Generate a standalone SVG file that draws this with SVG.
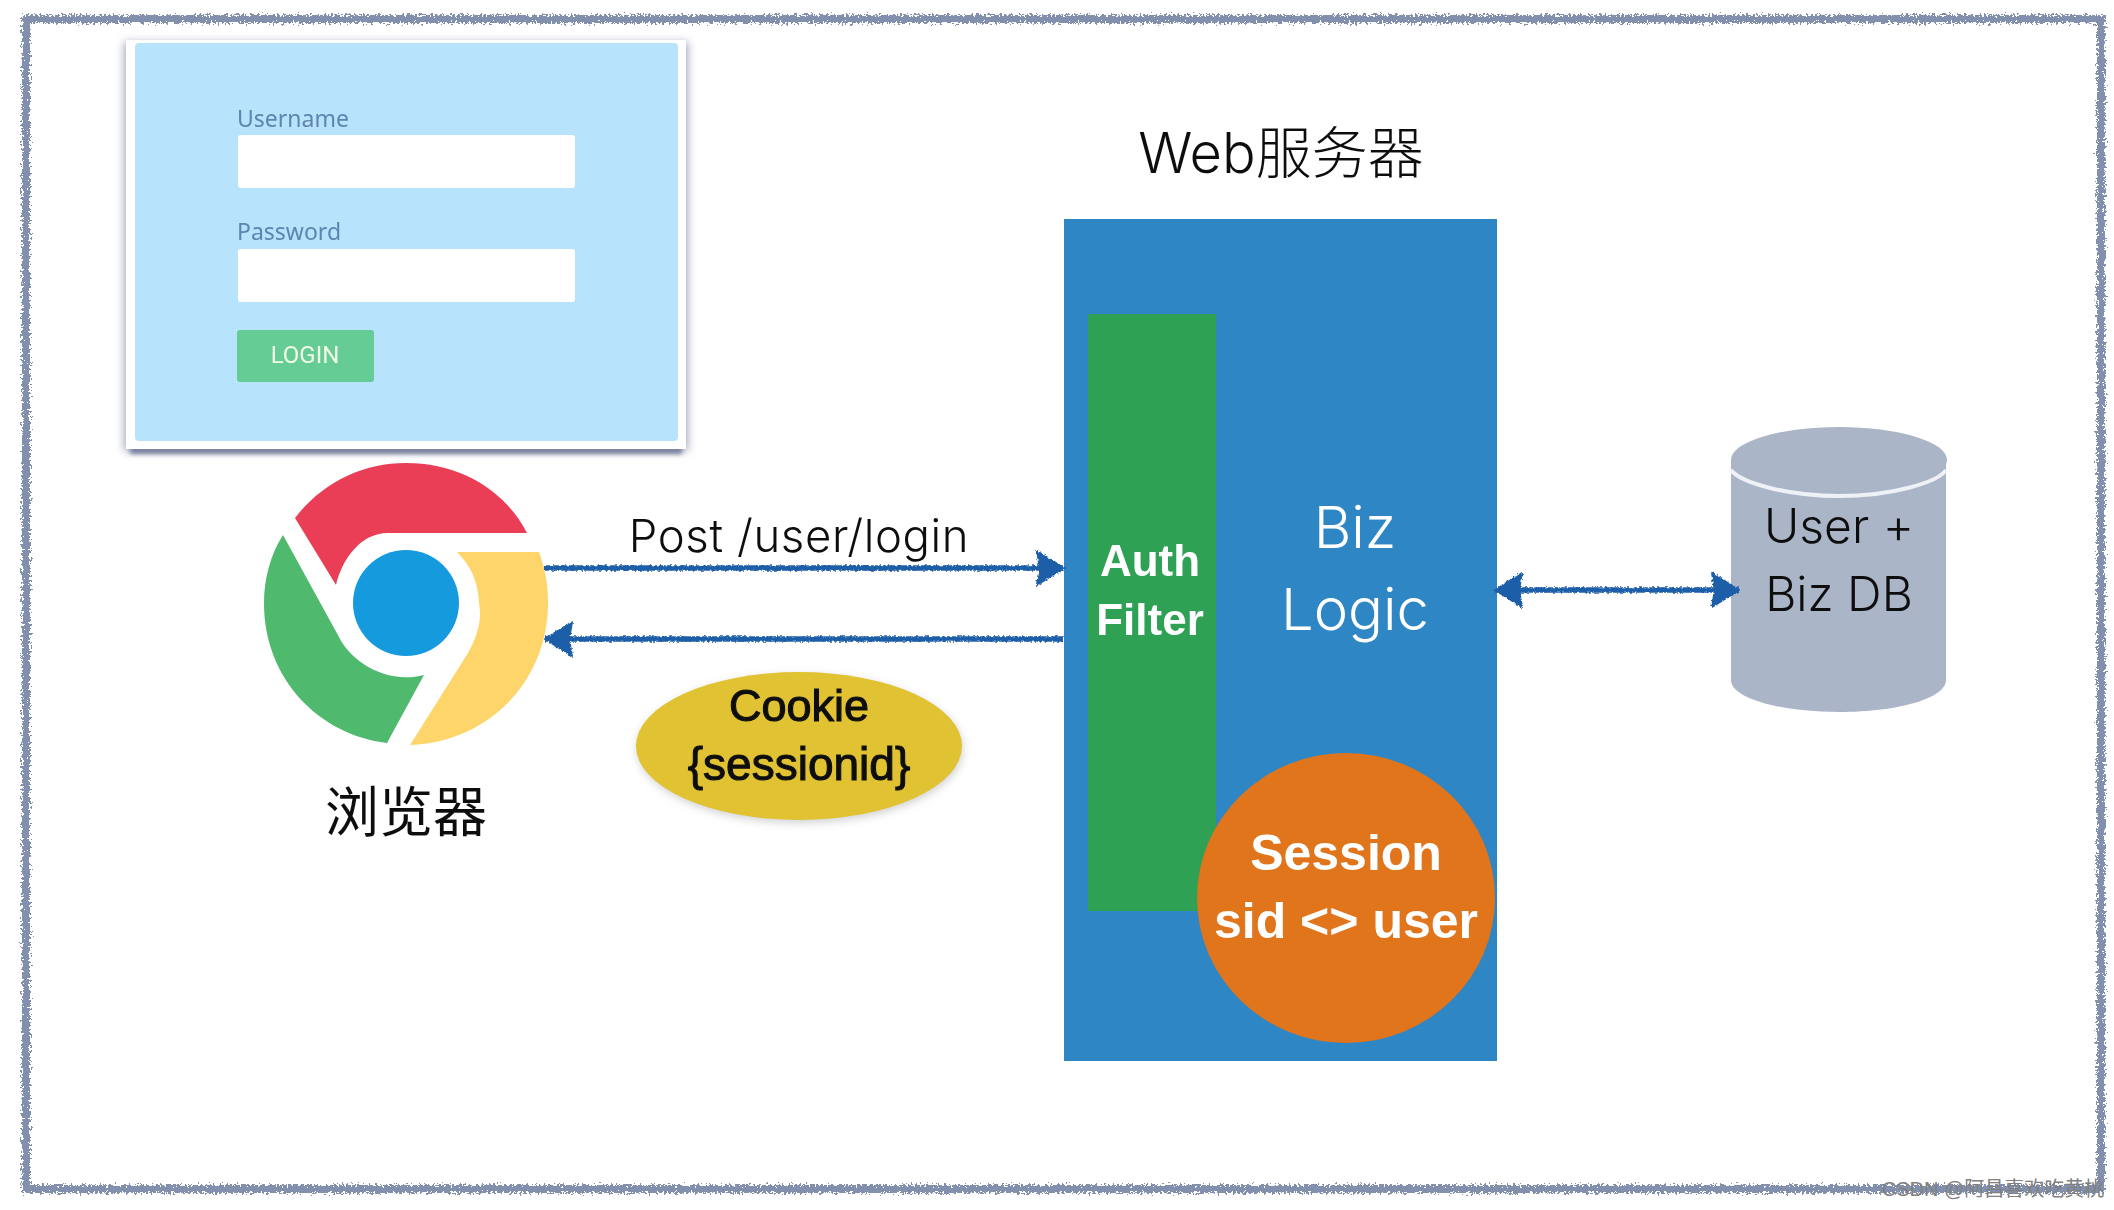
<svg xmlns="http://www.w3.org/2000/svg" width="2114" height="1210" viewBox="0 0 2114 1210">
<style>
.s{font-family:"Inter","Liberation Sans","Noto Sans CJK SC",sans-serif}
.h{font-family:"Liberation Sans",sans-serif}
.c{text-anchor:middle}
.lt{font-weight:300}
.b{font-weight:700}
.k{fill:#111}
.w{fill:#fff}
.lab{font-family:"Noto Sans","Liberation Sans",sans-serif;font-size:23px;fill:#5f84af}
.cj{font-family:"Noto Sans CJK SC",sans-serif;font-weight:400}
.con{fill:none;stroke:#1f5fa8;stroke-width:5.5}
</style>
<defs>
<filter id="rough" filterUnits="userSpaceOnUse" x="0" y="0" width="2114" height="1210">
<feTurbulence type="fractalNoise" baseFrequency="0.45" numOctaves="2" seed="4" result="n"/>
<feDisplacementMap in="SourceGraphic" in2="n" scale="10" xChannelSelector="R" yChannelSelector="G"/>
<feGaussianBlur stdDeviation="0.7"/>
</filter>
<filter id="roughA" filterUnits="userSpaceOnUse" x="0" y="0" width="2114" height="1210">
<feTurbulence type="fractalNoise" baseFrequency="0.4" numOctaves="2" seed="9" result="n"/>
<feDisplacementMap in="SourceGraphic" in2="n" scale="4" xChannelSelector="R" yChannelSelector="G"/>
<feGaussianBlur stdDeviation="0.5"/>
</filter>
<filter id="soft" filterUnits="userSpaceOnUse" x="0" y="0" width="2114" height="1210"><feGaussianBlur stdDeviation="0.45"/></filter>
<filter id="sh" filterUnits="userSpaceOnUse" x="0" y="0" width="2114" height="1210"><feGaussianBlur stdDeviation="4"/></filter>
<filter id="sh2" filterUnits="userSpaceOnUse" x="0" y="0" width="2114" height="1210"><feGaussianBlur stdDeviation="2.2"/></filter>
<marker id="end" markerUnits="userSpaceOnUse" markerWidth="36" markerHeight="44" refX="30" refY="22" orient="auto"><path d="M3 5L30 22L3 39L6 22Z" fill="#1f5fa8" stroke="#1f5fa8" stroke-width="2" stroke-linejoin="round"/></marker>
<marker id="start" markerUnits="userSpaceOnUse" markerWidth="36" markerHeight="44" refX="6" refY="22" orient="auto"><path d="M33 5L6 22L33 39L30 22Z" fill="#1f5fa8" stroke="#1f5fa8" stroke-width="2" stroke-linejoin="round"/></marker>
</defs>
<rect width="2114" height="1210" fill="#fff"/>
<g id="frame" filter="url(#rough)"><rect x="26" y="19" width="2075" height="1170" fill="none" stroke="#8290ae" stroke-width="8"/></g>
<g id="login" filter="url(#soft)">
<rect x="124" y="42" width="564" height="409" fill="#a6aabf" filter="url(#sh)"/>
<rect x="130" y="446" width="552" height="8" fill="#7c82a0" filter="url(#sh2)"/>
<rect x="126" y="40" width="560" height="409" fill="#fff"/>
<rect x="135" y="43" width="543" height="398" rx="4" fill="#b8e3fc"/>
<text class="lab" x="237" y="127">Username</text>
<rect x="238" y="135" width="337" height="53" rx="3" fill="#fff"/>
<text class="lab" x="237" y="240">Password</text>
<rect x="238" y="249" width="337" height="53" rx="3" fill="#fff"/>
<rect x="237" y="330" width="137" height="52" rx="3" fill="#66cc96"/>
<text x="305" y="363" text-anchor="middle" style="font-family:Roboto,sans-serif;font-size:24px;fill:#f2fbe8">LOGIN</text>
</g>
<g id="browser" filter="url(#soft)">
<path d="M295 518C322 483 362 463 406 463C460 463 505 490 527 533H388C360 533 342 560 336 585Z" fill="#ea3e56"/>
<path d="M283 535L339 637C350 660 385 685 424 675L387 743C320 735 264 680 264 603C264 580 270 555 283 535Z" fill="#50b96e"/>
<path d="M457 552H539C545 568 548 585 548 603C548 680 490 742 410 745L468 653C478 635 482 620 479 603C478 580 470 565 457 552Z" fill="#fdd56a"/>
<ellipse cx="406" cy="603" rx="53" ry="53" fill="#169ade"/>
<text class="cj c k" x="406" y="832" font-size="54">浏览器</text>
</g>
<g id="server" filter="url(#soft)">
<text class="c k" x="1281" y="173" font-size="56" style="font-family:Inter,'Noto Sans CJK SC',sans-serif;font-weight:300">Web服务器</text>
<rect x="1064" y="219" width="433" height="842" fill="#2e86c5"/>
<text class="s c lt w" x="1355" y="548" font-size="58">Biz</text>
<text class="s c lt w" x="1355" y="630" font-size="58">Logic</text>
</g>
<g id="auth" filter="url(#soft)">
<rect x="1088" y="314" width="128" height="597" fill="#2ea154"/>
<text class="h c b w" x="1150" y="576" font-size="44">Auth</text>
<text class="h c b w" x="1150" y="635" font-size="44">Filter</text>
</g>
<g id="session" filter="url(#soft)">
<ellipse cx="1346" cy="898" rx="149" ry="145" fill="#e0741f"/>
<text class="h c b w" x="1346" y="870" font-size="50">Session</text>
<text class="h c b w" x="1346" y="938" font-size="50">sid &lt;&gt; user</text>
</g>
<g id="db" filter="url(#soft)">
<path d="M1731 460V680C1731 698 1779 712 1839 712S1946 698 1946 680V460Z" fill="#aab5c8"/>
<path d="M1731 470C1740 482 1785 496 1839 496S1938 482 1946 470" fill="none" stroke="#eef1f6" stroke-width="4"/>
<ellipse cx="1839" cy="460" rx="108" ry="33" fill="#aab5c8"/>
<text class="s c lt k" x="1839" y="543" font-size="48">User +</text>
<text class="s c lt k" x="1839" y="611" font-size="48">Biz DB</text>
</g>
<g id="cookie" filter="url(#soft)">
<ellipse cx="800" cy="749" rx="163" ry="74" fill="#9a9a9a" opacity=".45" filter="url(#sh)"/>
<ellipse cx="799" cy="746" rx="163" ry="74" fill="#e0c230"/>
<text class="h c k" x="799" y="721" font-size="45" stroke="#111" stroke-width="1.1">Cookie</text>
<text class="h c k" x="799" y="780" font-size="46" stroke="#111" stroke-width="1.1">{sessionid}</text>
</g>
<g id="connectors" filter="url(#roughA)">
<path class="con" d="M544 568H1064" marker-end="url(#end)"/>
<path class="con" d="M1064 639H545" marker-end="url(#end)"/>
<path class="con" d="M1495 590H1739" marker-start="url(#start)" marker-end="url(#end)"/>
</g>
<g id="labels">
<text class="s c lt k" x="799" y="552" font-size="45.5" letter-spacing=".6" filter="url(#soft)">Post /user/login</text>
<text x="1993" y="1196" text-anchor="middle" font-size="20" fill="#808080" style="font-family:'Liberation Sans','Noto Sans CJK SC',sans-serif">CSDN @阿昌喜欢吃黄桃</text>
</g>
</svg>
